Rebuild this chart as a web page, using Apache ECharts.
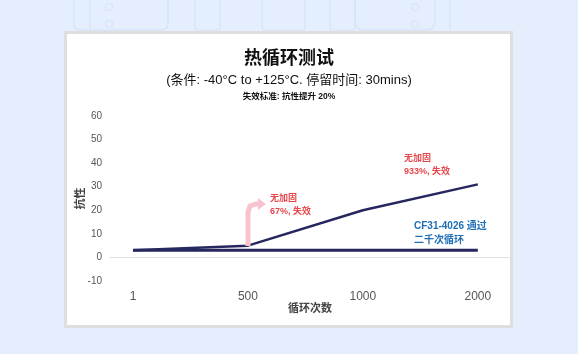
<!DOCTYPE html>
<html>
<head>
<meta charset="utf-8">
<script src="https://cdn.jsdelivr.net/npm/echarts@6/dist/echarts.min.js"></script>
<style>
  html, body { margin: 0; padding: 0; background: #e4eefc; }
  #main { width: 578px; height: 354px; }
</style>
</head>
<body>
<div id="main"></div>
<script>
// 循环次数 (x 轴分类)
var cycles = ['1', '500', '1000', '2000'];
// 抗性 - 无加固
var unreinforced = [3, 5, 20, 31];
// 抗性 - CF31-4026
var cf31 = [3, 3, 3, 3];
var yTicks = [-10, 0, 10, 20, 30, 40, 50, 60];

var font = '"Liberation Sans", "Noto Sans CJK SC", sans-serif';
var lineColor = '#26275e';
var decor = '#d6e4f9';

var myChart = echarts.init(document.getElementById('main'));

var toPairs = function (arr) {
  return arr.map(function (v, i) { return [i, v]; });
};

var option = {
  backgroundColor: '#e4eefc',
  textStyle: { fontFamily: font },
  graphic: [
    // 背景装饰
    { type: 'rect', silent: true, z: -20, shape: { x: 74, y: -10, width: 94, height: 40, r: 6 }, style: { fill: 'none', stroke: decor, lineWidth: 1.5 } },
    { type: 'line', silent: true, z: -20, shape: { x1: 90, y1: 0, x2: 90, y2: 30 }, style: { stroke: decor, lineWidth: 1.5 } },
    { type: 'rect', silent: true, z: -20, shape: { x: 195, y: -10, width: 25, height: 40, r: 3 }, style: { fill: 'none', stroke: decor, lineWidth: 1.2 } },
    { type: 'rect', silent: true, z: -20, shape: { x: 262, y: -10, width: 43, height: 40, r: 3 }, style: { fill: 'none', stroke: decor, lineWidth: 1.2 } },
    { type: 'rect', silent: true, z: -20, shape: { x: 330, y: -10, width: 25, height: 40, r: 3 }, style: { fill: 'none', stroke: decor, lineWidth: 1.2 } },
    { type: 'rect', silent: true, z: -20, shape: { x: 355, y: -10, width: 80, height: 40, r: 8 }, style: { fill: 'none', stroke: decor, lineWidth: 1.5 } },
    { type: 'line', silent: true, z: -20, shape: { x1: 450, y1: 0, x2: 450, y2: 30 }, style: { stroke: decor, lineWidth: 1.5 } },
    { type: 'circle', silent: true, z: -20, shape: { cx: 109, cy: 7, r: 3.5 }, style: { fill: 'none', stroke: decor, lineWidth: 1.2 } },
    { type: 'circle', silent: true, z: -20, shape: { cx: 109, cy: 24, r: 3.5 }, style: { fill: 'none', stroke: decor, lineWidth: 1.2 } },
    { type: 'circle', silent: true, z: -20, shape: { cx: 415, cy: 7, r: 3.5 }, style: { fill: 'none', stroke: decor, lineWidth: 1.2 } },
    { type: 'circle', silent: true, z: -20, shape: { cx: 415, cy: 24, r: 3.5 }, style: { fill: 'none', stroke: decor, lineWidth: 1.2 } },
    // 白色卡片
    { type: 'rect', silent: true, z: -10, shape: { x: 65.5, y: 32.5, width: 446, height: 294 }, style: { fill: '#ffffff', stroke: '#dedede', lineWidth: 3 } },
    // 粉色箭头
    { type: 'polyline', silent: true, z: 5, shape: { points: [[248, 246], [248, 212], [250, 206], [256, 204], [259, 204]] }, style: { stroke: '#f8c3cf', lineWidth: 5, fill: 'none' } },
    { type: 'polygon', silent: true, z: 5, shape: { points: [[258, 198], [266, 204], [258, 210]] }, style: { fill: '#f8c3cf' } },
    // 标注
    { type: 'text', left: 270, top: 192, z: 10, style: { text: '无加固\n67%, 失效', fill: '#e8484d', font: 'bold 9px ' + font, lineHeight: 13 } },
    { type: 'text', left: 404, top: 152, z: 10, style: { text: '无加固\n933%, 失效', fill: '#e8484d', font: 'bold 9px ' + font, lineHeight: 13 } },
    { type: 'text', left: 414, top: 219, z: 10, style: { text: 'CF31-4026 通过\n二千次循环', fill: '#1f6fb5', font: 'bold 10px ' + font, lineHeight: 14 } }
  ],
  title: [
    { text: '热循环测试', left: 'center', top: 45, textStyle: { fontSize: 18, fontWeight: 'bold', color: '#111', fontFamily: font } },
    { text: '(条件: -40°C to +125°C. 停留时间: 30mins)', left: 'center', top: 69, textStyle: { fontSize: 13, fontWeight: 'normal', color: '#111', fontFamily: font } },
    { text: '失效标准: 抗性提升 20%', left: 'center', top: 87, textStyle: { fontSize: 8.5, fontWeight: 'bold', color: '#111', fontFamily: font } }
  ],
  grid: { left: 110, right: 68, top: 116, bottom: 73 },
  xAxis: {
    type: 'value',
    min: -0.2,
    max: 3.28,
    name: '循环次数',
    nameLocation: 'middle',
    nameGap: 22,
    nameMoveOverlap: false,
    nameTextStyle: { fontSize: 11, color: '#444', fontWeight: 'bold' },
    axisLine: { onZero: true, lineStyle: { color: '#e2e2e2', width: 1 } },
    axisTick: { show: false },
    splitLine: { show: false },
    axisLabel: {
      customValues: [0, 1, 2, 3],
      formatter: function (v) { return cycles[Math.round(v)]; },
      color: '#555',
      fontSize: 12,
      margin: 10
    }
  },
  yAxis: {
    type: 'value',
    min: yTicks[0],
    max: yTicks[yTicks.length - 1],
    interval: 10,
    name: '抗性',
    nameLocation: 'middle',
    nameGap: 24,
    nameMoveOverlap: false,
    nameTextStyle: { fontSize: 11, color: '#444', fontWeight: 'bold' },
    axisLine: { show: false },
    axisTick: { show: false },
    splitLine: { show: false },
    axisLabel: { color: '#555', fontSize: 10, margin: 8 }
  },
  series: [
    {
      name: 'CF31-4026',
      type: 'line',
      data: toPairs(cf31),
      showSymbol: false,
      lineStyle: { color: lineColor, width: 3 },
      z: 3
    },
    {
      name: '无加固',
      type: 'line',
      data: toPairs(unreinforced),
      showSymbol: false,
      lineStyle: { color: lineColor, width: 2.5 },
      z: 4
    }
  ]
};

myChart.setOption(option);
</script>
</body>
</html>
